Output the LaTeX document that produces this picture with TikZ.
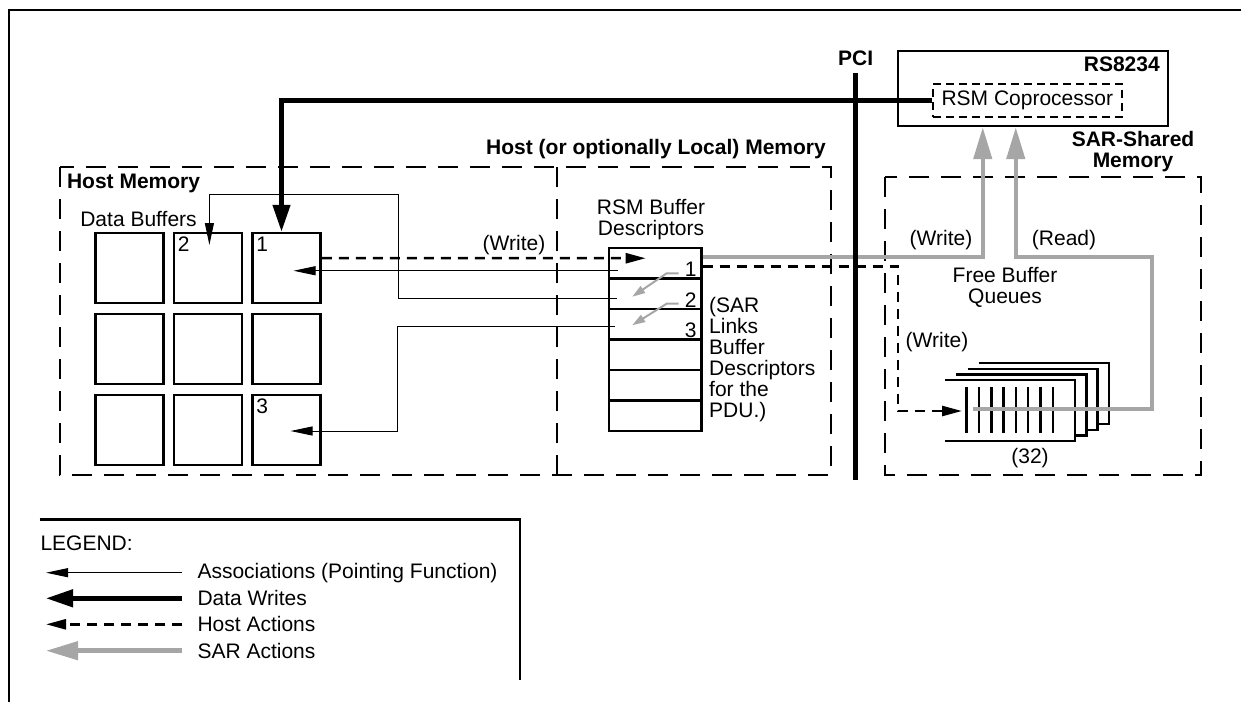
\documentclass[tikz,border=0pt]{standalone}
\usepackage{fontspec}
\setmainfont{Liberation Sans}
\usetikzlibrary{calc}
\usetikzlibrary{arrows.meta}

\definecolor{sargray}{gray}{0.65}

\begin{document}
\begin{tikzpicture}[x=1pt, y=-1pt, font=\fontsize{21}{21}\selectfont,
	buf/.style={rectangle, draw=black, line width=2.5pt, minimum width=68pt, minimum height=70pt, inner sep=0pt},
	desc/.style={rectangle, draw=black, line width=2.5pt, minimum width=92.5pt, minimum height=30.5pt, inner sep=0pt},
	titulo/.style={font=\fontsize{21}{21}\selectfont\bfseries},
	assoc/.style={line width=1pt, -{Triangle[length=22pt, width=9pt]}},
	datawr/.style={line width=4.5pt, -{Triangle[length=27pt, width=17pt]}},
	hostact/.style={line width=2.5pt, dash pattern=on 10pt off 7pt, -{Triangle[length=20pt, width=10pt]}},
	saract/.style={line width=4.5pt, draw=sargray, -{Triangle[length=32pt, width=18pt]}},
	sarlink/.style={line width=2pt, draw=sargray, -{Triangle[length=13pt, width=8pt]}},
	memdash/.style={line width=1.5pt, dash pattern=on 20pt off 12pt}]

		\useasboundingbox (0,0) rectangle (1241,702);
		\draw[line width=1.5pt] (1241,10) -- (9,10) -- (9,702);

		\def \passox{78.6};
		\def \passoy{81};

		\draw[memdash] (60,167) rectangle (831,475);
		\draw[memdash] (557,167) -- (557,475);
		\draw[memdash] (885,177) rectangle (1201,475);

		\node[titulo, anchor=west] (hostmem) at (63.5,183) {Host Memory};
		\node[titulo] (localmem) at (656,149) {Host (or optionally Local) Memory};
		\node[titulo, align=center] (sharedmem) at (1133,152) {SAR-Shared\\Memory};

		\foreach \r in {1,2,3}{
			\foreach \c in {1,2,3}{
				\node[buf] (buf\r\c) at (129.3+\passox*\c-\passox, 268+\passoy*\r-\passoy) {};
			}
		}
		\node (databuf) at (138.5,219) {Data Buffers};
		\node[anchor=north west, inner sep=5pt] (lab1) at (buf13.north west) {1};
		\node[anchor=north west, inner sep=5pt] (lab2) at (buf12.north west) {2};
		\node[anchor=north west, inner sep=5pt] (lab3) at (buf33.north west) {3};

		\node[align=center] (desclab) at (651,219.5) {RSM Buffer\\Descriptors};
		\foreach \i in {1,...,6}{
			\node[desc] (desc\i) at (655.2, 232.75+30.5*\i) {};
		}
		\foreach \i in {1,2,3}{
			\node[anchor=south east, inner xsep=6pt, inner ysep=3pt] (dnum\i) at (desc\i.south east) {\i};
		}
		\node[anchor=west, align=left, inner sep=0pt] (sarlinks) at (709,360) {(SAR\\Links\\Buffer\\Descriptors\\for the\\PDU.)};

		\draw[sarlink] ($(dnum1.west)+(0,4)$) -- ++(-12,0) -- ($(desc2.center)+(-23,3)$);
		\draw[sarlink] ($(dnum2.west)+(0,4)$) -- ++(-12,0) -- ($(desc3.center)+(-23,1)$);

		\draw[assoc] ($(desc1.west)+(10,7.5)$) -- ($(buf13.center)+(7,2.75)$);
		\draw[assoc] ($(desc2.west)+(9,4.25)$) -| (398,194) -| ($(buf12.center)+(1.5,-23)$);
		\draw[assoc] ($(desc3.west)+(7,1.75)$) -| (397,431) -- ($(buf33.center)+(4,1)$);

		\node[rectangle, draw=black, line width=2.5pt, minimum width=270pt, minimum height=75pt] (rs) at (1033,88.4) {};
		\node[titulo, anchor=east] (rslab) at ($(rs.north east)+(-6,14.3)$) {RS8234};
		\node[rectangle, draw=black, line width=1.5pt, dash pattern=on 8pt off 5pt, minimum width=189pt, minimum height=33pt, inner sep=0pt] (rsm) at (1027.3,100.5) {RSM Coprocessor};

		\coordinate (fila) at (945,411);
		\foreach \k in {3,2,1,0}{
			\filldraw[fill=white, line width=2.5pt] (945+11.3*\k, 380-5.6*\k) -- ++(130,0) -- ++(0,61) -- ++(-130,0);
		}
		\foreach \i in {0,...,7}{
			\draw[line width=2.5pt] (966.7+12.3*\i,387) -- ++(0,46);
		}
		\node (fblab) at (1005,287.5) [align=center] {Free Buffer\\Queues};
		\node (qtd) at (1030,458) {(32)};

		\draw[hostact] ($(buf13.east)+(0,-10)$) -- ($(desc1.west)+(38,-5)$);
		\node (wr1) at (514,245) {(Write)};
		\draw[hostact] ($(desc1.east)+(0,3)$) -| (898,411) -- ($(fila)+(17,0)$);
		\node (wr3) at (937,342) {(Write)};

		\draw[saract] ($(desc1.east)+(0,-6.5)$) -| ($(rs.south west)+(86,0)$);
		\draw[saract] ($(fila)+(28,-2)$) -| (1152,257) -| ($(rs.south west)+(119,0)$);
		\node (wr2) at (941,240) {(Write)};
		\node (rd) at (1064,240) {(Read)};

		\draw[datawr] (rsm.west) -| ($(buf13.north)+(-5,0)$);

		\node[titulo] (pci) at (855.6,58) {PCI};
		\coordinate (pcibase) at (855.6,480);
		\draw[line width=4.5pt] ($(pci.south)+(0,4)$) -- (pcibase);

		\draw[line width=2.5pt] (39.5,519.3) -- (520,519.3) -- (520,680);
		\node[anchor=west] (legtit) at (37,543) {LEGEND:};
		\foreach \y/\estilo/\texto in {572.7/assoc/{Associations (Pointing Function)}, 598.3/datawr/{Data Writes}, 624.3/hostact/{Host Actions}, 650.7/saract/{SAR Actions}}{
			\node[anchor=west] (leg\estilo) at (194,\y) {\texto};
			\draw[style=\estilo] ($(leg\estilo.west)+(-12,0)$) -- ++(-136,0);
		}

	\end{tikzpicture}
\end{document}
